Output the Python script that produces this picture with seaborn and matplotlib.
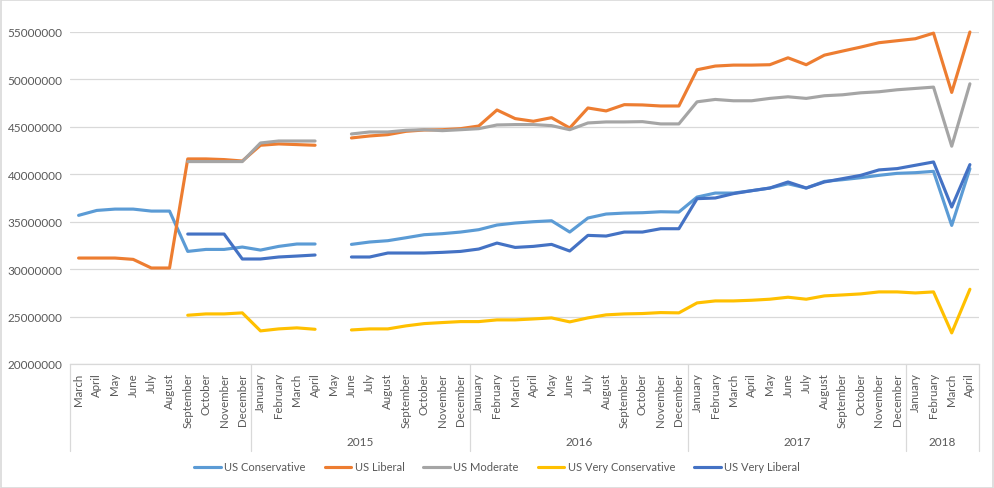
import numpy as np
import pandas as pd
import matplotlib
matplotlib.use("Agg")
import matplotlib.pyplot as plt
from matplotlib.patches import Rectangle
import seaborn as sns

nan = np.nan
SCALE = 1_000_000

months = ["March", "April", "May", "June", "July", "August", "September", "October", "November", "December"] + \
    ["January", "February", "March", "April", "May", "June", "July", "August", "September", "October", "November", "December"] * 3 + \
    ["January", "February", "March", "April"]
years = ["", "2015", "2016", "2017", "2018"]
year_sizes = [10, 12, 12, 12, 4]

us_conservative = [35.67, 36.19, 36.33, 36.33, 36.12, 36.12, 31.87, 32.08, 32.08, 32.33,
                   32.01, 32.40, 32.65, 32.65, nan, 32.61, 32.86, 33.00, 33.31, 33.63, 33.74, 33.91,
                   34.16, 34.65, 34.86, 35.00, 35.10, 33.91, 35.39, 35.81, 35.91, 35.95, 36.05, 36.02,
                   37.60, 38.02, 38.02, 38.27, 38.55, 39.00, 38.55, 39.25, 39.43, 39.64, 39.89, 40.10,
                   40.17, 40.31, 34.61, 40.59]
us_liberal = [31.17, 31.17, 31.17, 31.03, 30.12, 30.12, 41.62, 41.62, 41.55, 41.40,
              43.06, 43.20, 43.13, 43.06, nan, 43.83, 44.04, 44.18, 44.53, 44.67, 44.70, 44.81,
              45.09, 46.78, 45.87, 45.59, 45.97, 44.88, 46.99, 46.68, 47.34, 47.31, 47.20, 47.20,
              51.02, 51.41, 51.51, 51.51, 51.55, 52.28, 51.55, 52.56, 52.99, 53.41, 53.87, 54.08,
              54.29, 54.88, 48.63, 55.00]
us_moderate = [nan, nan, nan, nan, nan, nan, 41.34, 41.34, 41.34, 41.34,
               43.30, 43.51, 43.51, 43.51, nan, 44.25, 44.46, 44.46, 44.64, 44.70, 44.60, 44.70,
               44.81, 45.20, 45.24, 45.24, 45.13, 44.70, 45.41, 45.52, 45.52, 45.55, 45.31, 45.31,
               47.64, 47.89, 47.75, 47.75, 48.00, 48.17, 48.00, 48.28, 48.38, 48.59, 48.70, 48.91,
               49.05, 49.19, 42.96, 49.54]
us_very_conservative = [nan, nan, nan, nan, nan, nan, 25.14, 25.28, 25.28, 25.39,
                        23.49, 23.70, 23.81, 23.66, nan, 23.59, 23.70, 23.70, 24.02, 24.26, 24.37, 24.47,
                        24.47, 24.65, 24.65, 24.75, 24.86, 24.44, 24.86, 25.18, 25.28, 25.32, 25.42, 25.39,
                        26.44, 26.65, 26.65, 26.72, 26.83, 27.04, 26.83, 27.18, 27.28, 27.39, 27.60, 27.60,
                        27.49, 27.60, 23.28, 27.88]
us_very_liberal = [nan, nan, nan, nan, nan, nan, 33.70, 33.70, 33.70, 31.07,
                   31.07, 31.28, 31.38, 31.49, nan, 31.28, 31.28, 31.70, 31.70, 31.70, 31.77, 31.87,
                   32.12, 32.75, 32.29, 32.40, 32.61, 31.91, 33.56, 33.49, 33.91, 33.91, 34.26, 34.26,
                   37.43, 37.50, 37.96, 38.27, 38.55, 39.19, 38.55, 39.19, 39.54, 39.89, 40.46, 40.60,
                   40.95, 41.30, 36.55, 41.02]

series_names = ["US Conservative", "US Liberal", "US Moderate", "US Very Conservative", "US Very Liberal"]
series_values = [us_conservative, us_liberal, us_moderate, us_very_conservative, us_very_liberal]
colors = ["#5B9BD5", "#ED7D31", "#A5A5A5", "#FFC000", "#4472C4"]

rows = []
for name, vals in zip(series_names, series_values):
    seg = 0
    for i, v in enumerate(vals):
        if np.isnan(v):
            seg += 1
            continue
        rows.append({"idx": i, "value": v * SCALE, "series": name, "segment": seg})
df = pd.DataFrame(rows)

sns.set_theme(style="white")
plt.rcParams["font.family"] = ["Lato", "DejaVu Sans"]
TXT = "#595959"
GRID = "#D9D9D9"

fig = plt.figure(figsize=(9.94, 4.89), dpi=100)
L, R, B, T = 69.5, 979, 365, 33
W, H = 994, 489
ax = fig.add_axes([L / W, (H - B) / H, (R - L) / W, (B - T) / H])

sns.lineplot(data=df, x="idx", y="value", hue="series", units="segment", estimator=None,
             palette=dict(zip(series_names, colors)), hue_order=series_names,
             linewidth=2.25, sort=True, ax=ax)
for ln in ax.lines:
    ln.set_clip_on(False)
    ln.set_solid_joinstyle("round")
    ln.set_solid_capstyle("round")

n = len(months)
ax.set_xlim(-0.5, n - 0.5)
ax.set_ylim(20e6, 55e6)
yt = np.arange(20e6, 55e6 + 1, 5e6)
ax.set_yticks(yt)
ax.set_yticklabels([f"{int(v)}" for v in yt], color=TXT, fontsize=8.5)
ax.set_xticks(range(n))
ax.set_xticklabels(months, rotation=90, color=TXT, fontsize=8.3)
ax.tick_params(axis="x", length=0, pad=6)
ax.tick_params(axis="y", length=0, pad=5)
ax.grid(axis="y", color=GRID, linewidth=0.9)
ax.grid(axis="x", visible=False)
for s in ["top", "right", "left"]:
    ax.spines[s].set_visible(False)
ax.spines["bottom"].set_color(GRID)
ax.spines["bottom"].set_linewidth(0.9)
ax.set_xlabel("")
ax.set_ylabel("")

# multi-level category axis
trans = ax.get_xaxis_transform()
sep_bottom = (B - 452) / (B - T)
year_y = (B - 443) / (B - T)
start = 0
bounds = [-0.5]
for yr, sz in zip(years, year_sizes):
    centre = start + (sz - 1) / 2
    if yr:
        ax.text(centre, year_y, yr, transform=trans, ha="center", va="center", color=TXT, fontsize=8.5)
    start += sz
    bounds.append(start - 0.5)
for b in bounds:
    ax.plot([b, b], [0, sep_bottom], transform=trans, color=GRID, linewidth=0.9, clip_on=False)

handles, labels = ax.get_legend_handles_labels()
ax.get_legend().remove()
fig.legend(handles, labels, loc="center", bbox_to_anchor=(0.5, (H - 468) / H), ncol=5,
           frameon=False, fontsize=8.0, handlelength=2.4, handletextpad=0.3, columnspacing=1.7,
           labelcolor=TXT)

fig.patches.append(Rectangle((0.001, 0.001), 0.998, 0.997, transform=fig.transFigure,
                             fill=False, edgecolor=GRID, linewidth=1.2))

fig.savefig("out.png", dpi=100)
